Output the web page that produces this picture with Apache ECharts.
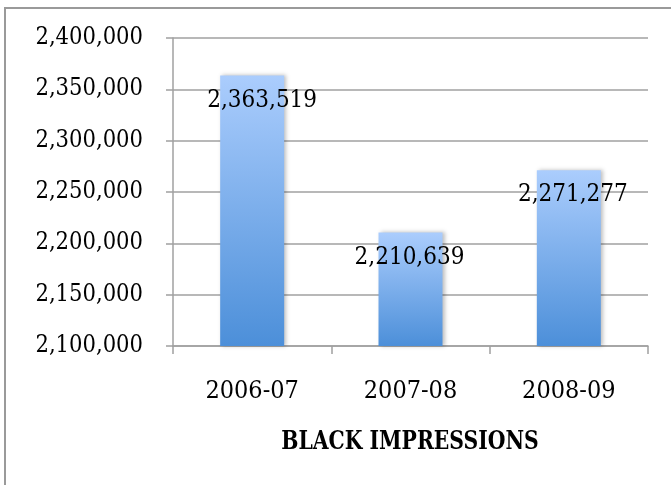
<!DOCTYPE html>
<html>
<head>
<meta charset="utf-8">
<script src="https://cdn.jsdelivr.net/npm/echarts@6/dist/echarts.min.js"></script>
<style>html,body{margin:0;padding:0;background:#fff;}#c{width:671px;height:485px;}</style>
</head>
<body>
<div id="c"></div>
<script>
const categories = ['2006-07', '2007-08', '2008-09'];
const values = [2363519, 2210639, 2271277];
const chartTitle = 'BLACK IMPRESSIONS';
const yMin = 2100000, yMax = 2400000, yStep = 50000;

const font = '"DejaVu Serif Condensed", "DejaVu Serif", serif';
const labelShift = [[10, 25], [-1, 25], [4, 25]];
const chart = echarts.init(document.getElementById('c'));
chart.setOption({
  animation: false,
  grid: { left: 173, top: 38, right: 23, bottom: 139 },
  graphic: [
    { type: 'rect', shape: { x: 5, y: 8, width: 720, height: 520 }, style: { fill: 'none', stroke: '#9a9a9a', lineWidth: 2 }, silent: true },
    { type: 'text', x: 410, y: 442, scaleX: 0.87, style: { text: chartTitle, font: 'bold 26px ' + font, fill: '#000', textAlign: 'center', textVerticalAlign: 'middle' } }
  ],
  xAxis: {
    type: 'category',
    data: categories,
    axisLine: { lineStyle: { color: '#a0a0a0', width: 1.5 } },
    axisTick: { show: true, length: 8, lineStyle: { color: '#a0a0a0', width: 1.5 } },
    axisLabel: { color: '#000', fontFamily: font, fontSize: 25, margin: 33 }
  },
  yAxis: {
    type: 'value',
    min: yMin, max: yMax, interval: yStep,
    axisLine: { show: true, lineStyle: { color: '#a0a0a0', width: 1.5 } },
    axisTick: { show: true, length: 7, lineStyle: { color: '#a0a0a0', width: 1.5 } },
    splitLine: { lineStyle: { color: '#a0a0a0', width: 1.5 } },
    axisLabel: {
      color: '#000', fontFamily: font, fontSize: 23.5, margin: 30,
      formatter: v => v.toLocaleString('en-US')
    }
  },
  series: [{
    type: 'bar',
    barWidth: 64,
    data: values.map((v, i) => ({
      value: v,
      label: { offset: labelShift[i] }
    })),
    itemStyle: {
      color: new echarts.graphic.LinearGradient(0, 0, 0, 1, [
        { offset: 0, color: '#abcdfd' },
        { offset: 1, color: '#4c8fd9' }
      ]),
      shadowColor: 'rgba(0,0,0,0.25)', shadowBlur: 4, shadowOffsetX: 2
    },
    label: {
      show: true, position: 'top', distance: 0,
      color: '#000', fontFamily: font, fontSize: 24,
      verticalAlign: 'middle',
      formatter: p => p.value.toLocaleString('en-US')
    }
  }]
});
</script>
</body>
</html>
